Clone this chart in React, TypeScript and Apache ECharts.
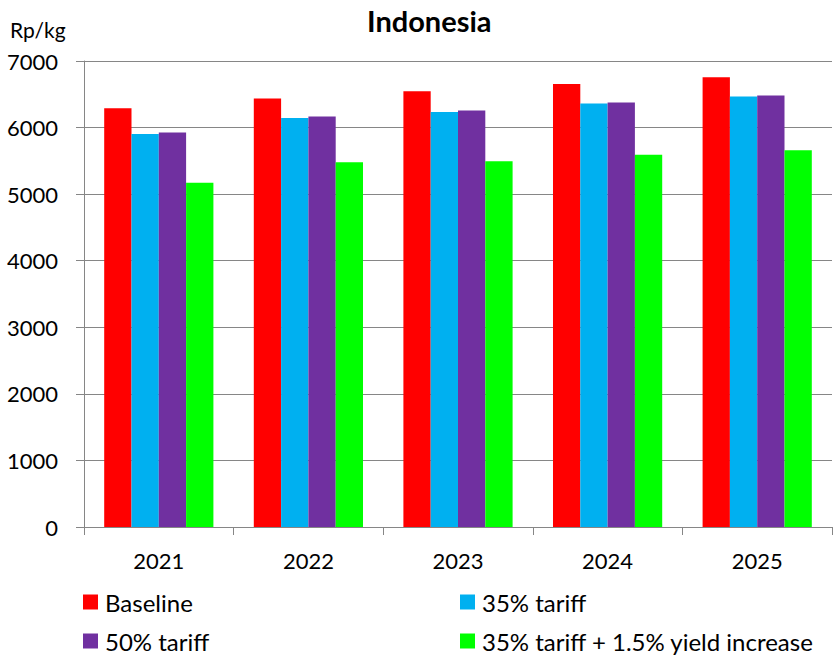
import React, { useEffect, useRef } from "react";
import * as echarts from "echarts";

const years = ["2021", "2022", "2023", "2024", "2025"];
const baseline = [6290, 6435, 6545, 6655, 6755];
const tariff35 = [5905, 6145, 6235, 6360, 6465];
const tariff50 = [5925, 6165, 6255, 6375, 6480];
const tariffYield = [5170, 5480, 5495, 5590, 5660];
const seriesNames = ["Baseline", "35% tariff", "50% tariff", "35% tariff + 1.5% yield increase"];
const colors = ["#FF0000", "#00B0F0", "#7030A0", "#00FF00"];

const FONT = "Lato, 'Open Sans', sans-serif";

export default function App() {
  const ref = useRef<HTMLDivElement>(null);
  useEffect(() => {
    document.body.style.margin = "0";
    const chart = echarts.init(ref.current!, null, { renderer: "svg" });
    const data = [baseline, tariff35, tariff50, tariffYield];
    const legendPos = [
      { left: 83, top: 590 },
      { left: 460, top: 590 },
      { left: 83, top: 629 },
      { left: 460, top: 629 },
    ];
    chart.setOption({
      animation: false,
      textStyle: { fontFamily: FONT },
      title: {
        text: "Indonesia",
        left: 362,
        top: 1,
        textStyle: { fontSize: 29, fontWeight: "bold", color: "#000", fontFamily: FONT },
      },
      graphic: [
        {
          type: "text",
          left: 10,
          top: 19,
          style: { text: "Rp/kg", fontSize: 21, fill: "#000", fontFamily: FONT },
        },
      ],
      legend: seriesNames.map((n, i) => ({
        data: [n],
        left: legendPos[i].left,
        top: legendPos[i].top,
        padding: 0,
        itemWidth: 15,
        itemHeight: 15,
        icon: "rect",
        selectedMode: false,
        textStyle: { fontSize: 24, color: "#000", fontFamily: FONT, padding: [0, 0, 0, 2] },
      })),
      grid: { left: 84, right: 2, top: 61, bottom: 129, containLabel: false },
      xAxis: {
        type: "category",
        data: years,
        axisLine: { lineStyle: { color: "#868686" } },
        axisTick: { show: true, length: 8, lineStyle: { color: "#868686" } },
        axisLabel: { fontSize: 22, color: "#000", margin: 22, fontFamily: FONT },
      },
      yAxis: {
        type: "value",
        min: 0,
        max: 7000,
        interval: 1000,
        axisLine: { show: true, lineStyle: { color: "#868686" } },
        axisTick: { show: true, length: 8, inside: false, lineStyle: { color: "#868686" } },
        splitLine: { lineStyle: { color: "#868686" } },
        axisLabel: {
          fontSize: 22,
          color: "#000",
          margin: 26,
          fontFamily: FONT,
          formatter: (v: number) => String(v),
        },
      },
      series: seriesNames.map((n, i) => ({
        name: n,
        type: "bar",
        data: data[i],
        itemStyle: { color: colors[i] },
        barGap: "0%",
        barCategoryGap: "27%",
      })),
    });
    return () => chart.dispose();
  }, []);
  return <div ref={ref} style={{ width: 834, height: 656 }} />;
}
